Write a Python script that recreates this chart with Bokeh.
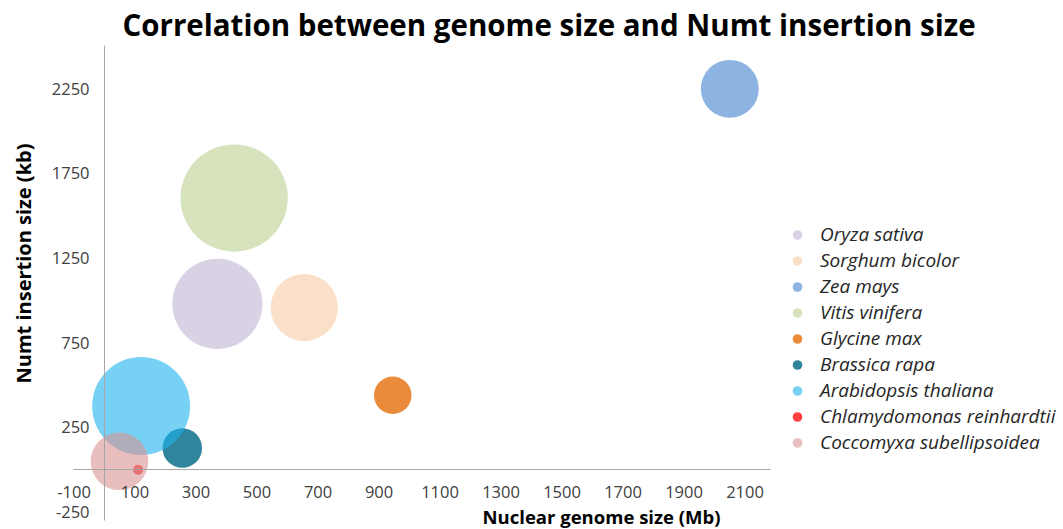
import math
from bokeh.plotting import figure
from bokeh.models import (ColumnDataSource, LinearAxis, FixedTicker, Label,
                          Legend, LegendItem, Range1d, PrintfTickFormatter)
from bokeh.embed import file_html
from bokeh.resources import INLINE

# ---- data ----
species = ["Oryza sativa", "Sorghum bicolor", "Zea mays", "Vitis vinifera",
           "Glycine max", "Brassica rapa", "Arabidopsis thaliana",
           "Chlamydomonas reinhardtii", "Coccomyxa subellipsoidea"]
genome_size_mb = [370, 655, 2050, 425, 945, 255, 120, 110, 49]
numt_size_kb = [980, 958, 2250, 1605, 440, 128, 376, 0, 50]
bubble_value = [20.3, 11.3, 8.4, 28.8, 3.5, 3.9, 24.0, 0.25, 8.3]

x_ticks = [-100, 100, 300, 500, 700, 900, 1100, 1300, 1500, 1700, 1900, 2100]
y_ticks = [-250, 250, 750, 1250, 1750, 2250]

# ---- styles ----
colors = ["#c0b4d4", "#f8cba5", "#4180cf", "#bbd091", "#e57717",
          "#1a7791", "#1bb2ed", "#ff0000", "#d99393"]
alphas = [0.6, 0.6, 0.6, 0.6, 0.85, 0.9, 0.6, 0.75, 0.6]
diam = [20 * math.sqrt(v) for v in bubble_value]

FONT = "Open Sans"

src = ColumnDataSource(dict(x=genome_size_mb, y=numt_size_kb, name=species,
                            d=diam, c=colors, a=alphas))

# frame spans the whole figure below the title; axes sit at x=0 / y=0
p = figure(width=1063, height=529, output_backend="svg", toolbar_location=None,
           x_range=Range1d(-341, 3144), y_range=Range1d(-353, 2506),
           x_axis_location=None, y_axis_location=None,
           min_border_left=0, min_border_right=0, min_border_top=43,
           min_border_bottom=0)
p.outline_line_color = None
p.xgrid.visible = False
p.ygrid.visible = False
p.background_fill_color = "white"

p.title.text = "Correlation between genome size and Numt insertion size"
p.title.text_font = FONT
p.title.text_font_size = "29.5px"
p.title.text_font_style = "bold"
p.title.text_color = "#000000"
p.title.align = "left"
p.title.offset = 122
p.title.standoff = 2

def style_axis(ax):
    ax.axis_line_color = "#a6a6a6"
    ax.axis_line_width = 1
    ax.major_tick_line_color = None
    ax.minor_tick_line_color = None
    ax.major_tick_in = 0
    ax.major_tick_out = 0
    ax.formatter = PrintfTickFormatter(format="%d")
    ax.major_label_text_font = FONT
    ax.major_label_text_font_size = "16.5px"
    ax.major_label_text_color = "#404040"

xaxis = LinearAxis(fixed_location=0, ticker=FixedTicker(ticks=x_ticks),
                   bounds=(-102, 2184))
style_axis(xaxis)
xaxis.major_label_standoff = 16
p.add_layout(xaxis, "below")

yaxis = LinearAxis(fixed_location=0, ticker=FixedTicker(ticks=y_ticks),
                   bounds=(-300, 2506))
style_axis(yaxis)
yaxis.major_label_standoff = 15
p.add_layout(yaxis, "left")

r = p.scatter("x", "y", size="d", source=src, fill_color="c", fill_alpha="a",
              line_color=None)

legend = Legend(items=[LegendItem(label=s, renderers=[r], index=i)
                       for i, s in enumerate(species)],
                location=(785, 74), orientation="vertical")
legend.border_line_color = None
legend.background_fill_alpha = 0
legend.padding = 0
legend.margin = 0
legend.spacing = 0
legend.glyph_width = 24
legend.glyph_height = 25
legend.label_height = 25
legend.label_standoff = 11
legend.label_text_font = FONT
legend.label_text_font_size = "19px"
legend.label_text_font_style = "italic"
legend.label_text_color = "#262626"
p.add_layout(legend, "center")

p.add_layout(Label(x=23, y=266, x_units="screen", y_units="screen",
                   text="Numt insertion size (kb)", angle=math.pi / 2,
                   text_align="center", text_baseline="middle",
                   text_font=FONT, text_font_size="20px",
                   text_font_style="bold", text_color="#000000"))
p.add_layout(Label(x=601, y=13, x_units="screen", y_units="screen",
                   text="Nuclear genome size (Mb)",
                   text_align="center", text_baseline="alphabetic",
                   text_font=FONT, text_font_size="18.5px",
                   text_font_style="bold", text_color="#000000"))

open("out.html", "w").write(file_html(p, INLINE))
